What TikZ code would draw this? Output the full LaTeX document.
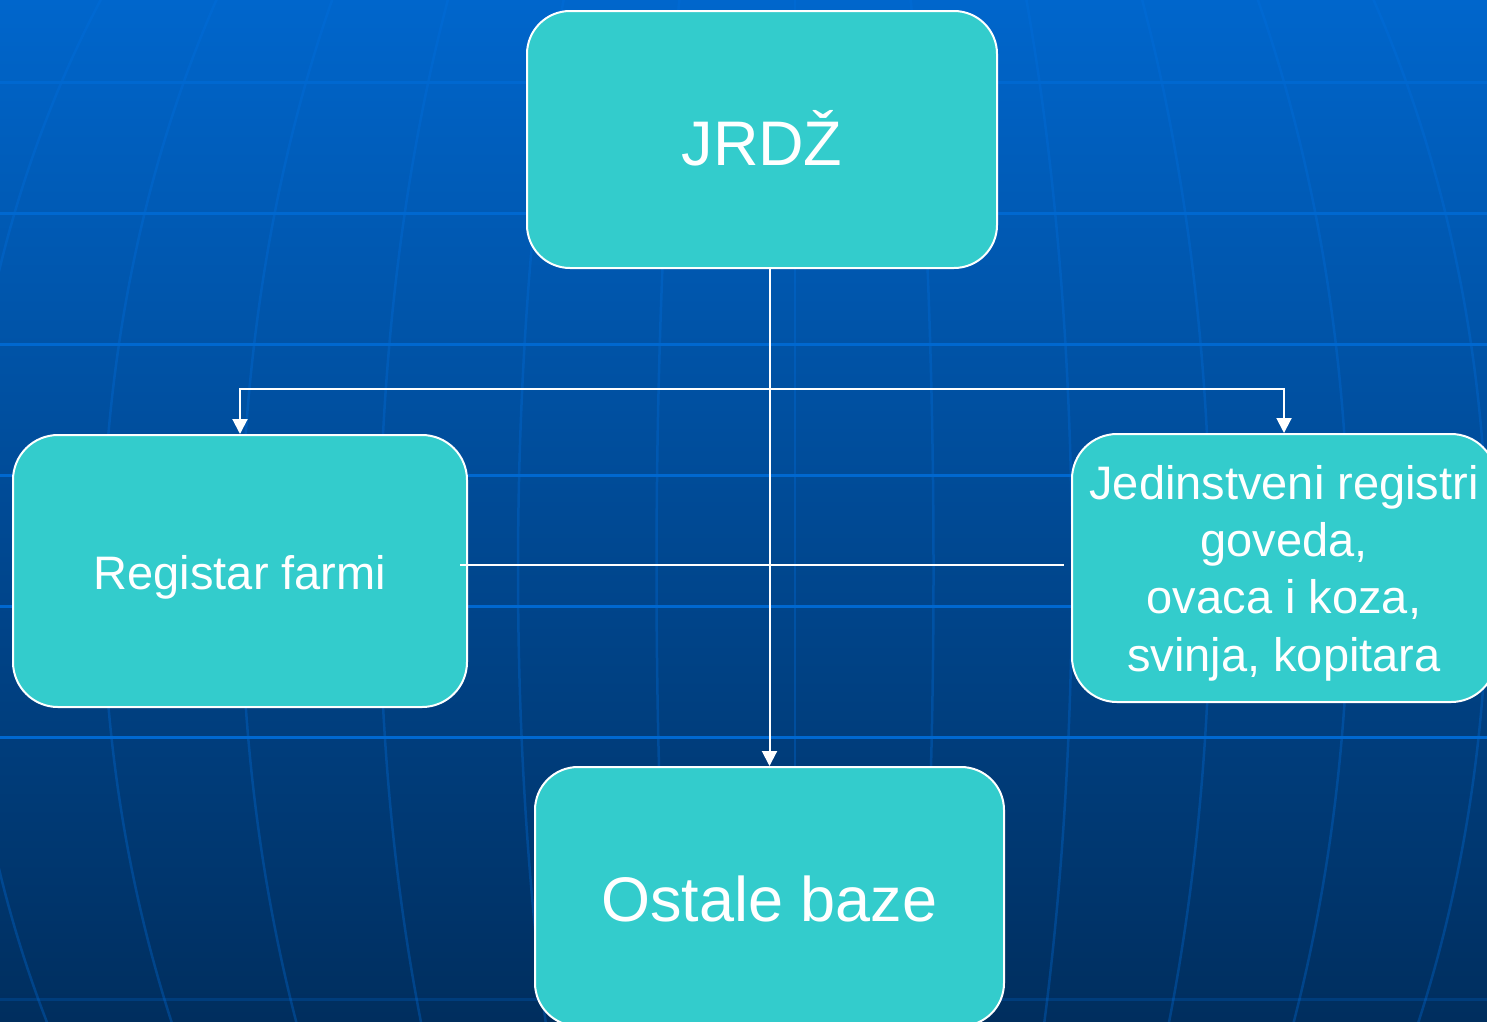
\documentclass[tikz,border=0pt]{standalone}
\usepackage{fontspec}
\setmainfont{Liberation Sans}
\usetikzlibrary{arrows.meta}
\definecolor{bgtop}{HTML}{0066CC}
\definecolor{bgmid}{HTML}{0054A8}
\definecolor{bgbot}{HTML}{002E5E}
\definecolor{gridh}{HTML}{0068D0}
\definecolor{gridm}{HTML}{0070E0}
\definecolor{boxfill}{HTML}{33CCCC}
\begin{document}
\begin{tikzpicture}[x=1pt,y=-1pt,
  box/.style={draw=white, line width=2pt, fill=boxfill, text=white, inner sep=0pt, align=center},
  conn/.style={draw=white, line width=2pt},
  tip/.style={-{Triangle[length=15pt,width=15pt]}},
  hgrid/.style={draw=gridh, line width=3pt},
  mgrid/.style={draw=gridm, draw opacity=0.32, line width=2.5pt}]
\useasboundingbox (0,0) rectangle (1487,1021);
\shade[top color=bgtop, middle color=bgmid, bottom color=bgbot] (0,0) rectangle (1487,1021);
\begin{scope}
  \clip (0,0) rectangle (1487,1021);
  \foreach \k in {1,...,6}
    \draw[mgrid] (795,570) ellipse [x radius={\k*138.5pt}, y radius=1037pt];
  \draw[mgrid] (795,0) -- (795,1021);
  \foreach \yy in {82,213,344,475,606,737}
    \draw[hgrid] (0,\yy) -- (1487,\yy);
  \draw[hgrid, draw opacity=0.25] (0,999) -- (1487,999);
\end{scope}

\node[box, minimum width=470pt, minimum height=257pt, rounded corners=43pt,
      font=\fontsize{63pt}{75pt}\selectfont, text height=51pt, text depth=0pt]
      (jrdz) at (762,139.5) {JRDŽ};
\node[box, minimum width=454pt, minimum height=272pt, rounded corners=45pt,
      font=\fontsize{47pt}{57pt}\selectfont, text height=36pt, text depth=0pt]
      (reg) at (240,571) {Registar farmi};
\node[box, minimum width=424pt, minimum height=268pt, rounded corners=45pt,
      font=\fontsize{47pt}{57.3pt}\selectfont, text height=206pt, text depth=0pt]
      (jed) at (1284,568) {Jedinstveni registri\\goveda,\\ovaca i koza,\\svinja, kopitara};
\node[box, minimum width=469pt, minimum height=259pt, rounded corners=43pt,
      font=\fontsize{63pt}{75pt}\selectfont, text height=49pt, text depth=0pt]
      (ost) at (769.5,896.5) {Ostale baze};

\coordinate (bus) at (769.5,389);
\coordinate (hl) at (460,565);
\coordinate (hr) at (1064,565);
\draw[conn,tip] (ost.north |- jrdz.south) -- (ost.north);
\draw[conn,tip] (bus) -| (reg.north);
\draw[conn,tip] (bus) -| (jed.north);
\draw[conn] (hl) -- (hr);
\end{tikzpicture}
\end{document}
